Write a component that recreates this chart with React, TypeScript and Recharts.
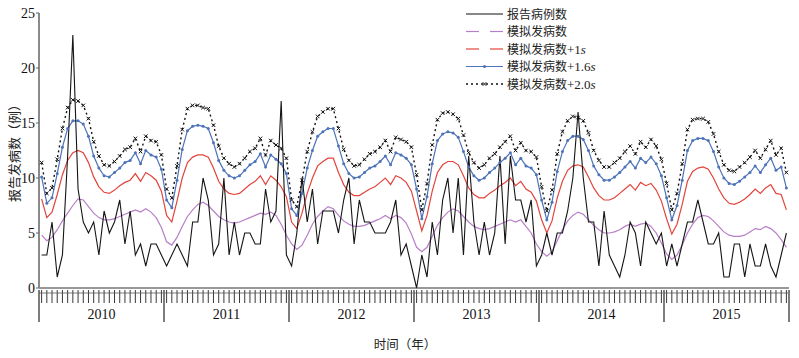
import { Line, LineChart, XAxis, YAxis } from "recharts";

const years = [2010, 2011, 2012, 2013, 2014, 2015];
const periodsPerYear = 24;
const yTicks = [0, 5, 10, 15, 20, 25];

// 报告病例数 (one row per year, 24 periods each)
const reported = [
  3, 3, 6, 1, 3, 12, 23, 9, 6, 5, 6, 3, 7, 5, 6, 8, 4, 7, 3, 4, 2, 4, 4, 3,
  2, 3, 4, 3, 2, 6, 6, 10, 8, 3, 4, 10, 3, 6, 3, 5, 5, 4, 4, 9, 6, 7, 17, 3,
  2, 5, 10, 6, 9, 4, 7, 7, 7, 5, 8, 10, 4, 8, 6, 6, 5, 5, 5, 6, 8, 3, 4, 2,
  0, 3, 1, 6, 3, 8, 10, 5, 10, 3, 12, 6, 3, 6, 3, 5, 12, 4, 12, 8, 8, 6, 8, 2,
  3, 5, 3, 5, 5, 7, 10, 16, 10, 6, 6, 2, 7, 3, 2, 1, 3, 6, 5, 2, 6, 5, 4, 5,
  2, 4, 2, 4, 6, 6, 8, 6, 4, 4, 5, 1, 1, 4, 4, 1, 4, 2, 2, 4, 2, 1, 3, 5,
];

// 模拟发病数
const simulated = [
  4.8, 4.3, 4.6, 5.3, 6.1, 6.8, 7.5, 8.1, 8.0, 7.4, 6.8, 6.4, 6.2, 6.2, 6.3, 6.5, 6.7, 6.9, 7.1, 6.9, 7.2, 6.9, 6.4, 5.5,
  4.2, 3.9, 4.6, 5.6, 6.5, 7.1, 7.6, 7.8, 7.5, 7.0, 6.5, 6.2, 6.0, 5.9, 6.0, 6.2, 6.4, 6.6, 6.8, 6.7, 6.9, 6.6, 5.8, 4.8,
  4.0, 3.5, 3.9, 4.8, 5.8, 6.5, 7.0, 7.4, 7.2, 6.6, 6.1, 5.8, 5.6, 5.6, 5.7, 5.9, 6.1, 6.3, 6.6, 6.3, 6.6, 6.4, 5.9, 4.9,
  3.7, 3.3, 3.7, 4.7, 5.7, 6.4, 6.9, 7.2, 7.0, 6.5, 6.0, 5.6, 5.4, 5.3, 5.4, 5.6, 5.8, 6.0, 6.2, 6.0, 6.2, 5.6, 5.0, 4.0,
  3.3, 2.9, 3.3, 4.3, 5.3, 6.1, 6.6, 6.9, 6.7, 6.2, 5.7, 5.3, 5.0, 5.0, 5.1, 5.3, 5.6, 5.8, 5.6, 5.8, 5.9, 5.6, 5.0, 4.1,
  3.1, 2.6, 3.0, 3.9, 5.0, 5.8, 6.4, 6.6, 6.5, 6.1, 5.6, 5.1, 4.8, 4.7, 4.7, 4.8, 5.1, 5.4, 5.3, 5.6, 5.4, 5.0, 4.4, 3.7,
];

// 模拟发病数+1s
const plus1s = [
  8.1, 6.4, 6.9, 8.5, 10.3, 11.6, 12.3, 12.5, 12.3, 11.4, 10.1, 9.2, 8.7, 8.6, 8.9, 9.3, 9.6, 9.8, 10.4, 9.7, 10.5, 10.2, 9.8, 8.8,
  6.6, 6.0, 7.9, 10.0, 11.4, 11.9, 12.1, 12.1, 11.9, 10.9, 9.7, 9.0, 8.6, 8.5, 8.6, 9.0, 9.4, 9.7, 10.2, 9.4, 10.2, 9.8, 9.2, 8.3,
  6.0, 5.4, 6.8, 8.6, 10.0, 11.1, 11.5, 11.8, 11.8, 10.5, 9.4, 8.7, 8.4, 8.4, 8.7, 9.0, 9.2, 9.6, 10.0, 9.4, 10.2, 10.0, 9.6, 8.8,
  7.0, 5.2, 6.6, 8.8, 10.5, 11.2, 11.5, 11.5, 11.2, 10.2, 9.1, 8.5, 8.2, 8.2, 8.6, 8.9, 9.3, 9.6, 10.0, 9.3, 9.7, 9.0, 8.7, 7.9,
  6.2, 5.0, 6.1, 8.2, 9.7, 10.7, 11.1, 11.2, 11.0, 10.1, 9.1, 8.4, 8.0, 8.0, 8.2, 8.6, 9.0, 9.4, 8.9, 9.6, 9.3, 9.5, 8.9, 7.9,
  6.3, 4.9, 5.8, 7.6, 9.7, 10.6, 10.9, 11.0, 10.8, 10.0, 9.0, 8.2, 7.7, 7.6, 7.8, 8.1, 8.5, 9.0, 8.6, 9.1, 9.4, 8.6, 8.5, 7.1,
];

// 模拟发病数+1.6s
const plus16s = [
  10.1, 7.7, 8.2, 10.4, 12.8, 14.5, 15.2, 15.2, 14.9, 13.8, 12.0, 10.9, 10.2, 10.1, 10.5, 10.9, 11.4, 11.6, 12.3, 11.3, 12.5, 12.1, 11.9, 10.8,
  8.0, 7.3, 9.8, 12.6, 14.3, 14.7, 14.8, 14.7, 14.5, 13.2, 11.6, 10.7, 10.2, 10.0, 10.2, 10.7, 11.2, 11.5, 12.2, 11.0, 12.1, 11.7, 11.3, 10.4,
  7.2, 6.6, 8.6, 10.9, 12.5, 13.8, 14.2, 14.5, 14.5, 12.9, 11.3, 10.4, 10.0, 10.1, 10.5, 10.9, 11.1, 11.5, 12.0, 11.2, 12.3, 12.1, 11.8, 11.2,
  9.0, 6.3, 8.3, 11.3, 13.4, 14.0, 14.2, 14.1, 13.7, 12.4, 11.0, 10.2, 9.8, 10.0, 10.5, 10.9, 11.4, 11.8, 12.3, 11.2, 11.8, 11.1, 10.9, 10.3,
  8.0, 6.2, 7.8, 10.6, 12.4, 13.4, 13.8, 13.8, 13.5, 12.5, 11.1, 10.3, 9.8, 9.8, 10.1, 10.5, 11.0, 11.5, 10.9, 11.8, 11.4, 11.9, 11.3, 10.2,
  8.2, 6.2, 7.5, 9.8, 12.5, 13.4, 13.6, 13.6, 13.4, 12.4, 11.0, 10.0, 9.5, 9.4, 9.7, 10.1, 10.5, 11.1, 10.5, 11.2, 11.8, 10.7, 11.0, 9.1,
];

// 模拟发病数+2.0s
const plus20s = [
  11.4, 8.6, 9.1, 11.7, 14.5, 16.4, 17.1, 17.0, 16.6, 15.4, 13.3, 12.0, 11.2, 11.1, 11.5, 12.0, 12.6, 12.8, 13.6, 12.4, 13.8, 13.4, 13.3, 12.1,
  9.0, 8.2, 11.1, 14.4, 16.3, 16.6, 16.6, 16.4, 16.3, 14.8, 12.9, 11.8, 11.3, 11.0, 11.3, 11.8, 12.4, 12.7, 13.6, 12.1, 13.4, 13.0, 12.7, 11.8,
  8.0, 7.4, 9.8, 12.4, 14.2, 15.6, 16.0, 16.3, 16.3, 14.5, 12.6, 11.6, 11.1, 11.2, 11.7, 12.2, 12.4, 12.8, 13.4, 12.4, 13.7, 13.5, 13.3, 12.8,
  10.3, 7.1, 9.5, 13.0, 15.3, 15.9, 16.0, 15.8, 15.4, 13.9, 12.3, 11.4, 10.9, 11.2, 11.8, 12.2, 12.8, 13.3, 13.8, 12.5, 13.2, 12.5, 12.4, 11.9,
  9.2, 7.0, 8.9, 12.2, 14.2, 15.2, 15.6, 15.5, 15.2, 14.1, 12.5, 11.6, 11.0, 11.0, 11.4, 11.8, 12.4, 12.9, 12.2, 13.3, 12.8, 13.5, 12.9, 11.7,
  9.5, 7.1, 8.6, 11.3, 14.4, 15.3, 15.4, 15.4, 15.1, 14.0, 12.4, 11.2, 10.7, 10.6, 11.0, 11.4, 11.9, 12.5, 11.8, 12.6, 13.4, 12.1, 12.7, 10.5,
];

const legendLabels = ["报告病例数", "模拟发病数", "模拟发病数", "模拟发病数", "模拟发病数"];
const legendSuffix = ["", "", "+1", "+1.6", "+2.0"];

const PURPLE = "#b77fc7";
const RED = "#e3443b";
const BLUE = "#4d73b8";
const SERIF = "Liberation Serif, serif";
const CJK = "Noto Sans CJK SC, sans-serif";

const data = reported.map((v, i) => ({
  t: i + 0.5,
  reported: v,
  simulated: simulated[i],
  plus1s: plus1s[i],
  plus16s: plus16s[i],
  plus20s: plus20s[i],
}));

const total = years.length * periodsPerYear;
const yearEdges = years.map((_, k) => k * periodsPerYear).concat(total);
const yearMids = years.map((_, k) => k * periodsPerYear + periodsPerYear / 2);
const xTicks = [...data.map((d) => d.t), ...yearEdges, ...yearMids].sort((a, b) => a - b);

/** One tick per period, long separators between years, year name in the middle. */
function XTick({ x, y, payload }: any) {
  const v = payload.value as number;
  if (v % periodsPerYear === 0) {
    return <line x1={x} x2={x} y1={y} y2={y + 32} stroke="#7d7d7d" strokeWidth={2} />;
  }
  if (v % periodsPerYear === periodsPerYear / 2) {
    return (
      <text x={x} y={y + 29} textAnchor="middle" fontFamily={SERIF} fontSize={14} fill="#111">
        {years[Math.floor(v / periodsPerYear)]}
      </text>
    );
  }
  return (
    <g>
      <line x1={x} x2={x} y1={y} y2={y + 13} stroke="#222" strokeWidth={0.9} />
      <line x1={x - 2.6} x2={x + 2.6} y1={y + 3} y2={y + 3} stroke="#555" strokeWidth={0.8} />
    </g>
  );
}

function XMark({ cx, cy, index }: any) {
  if (cx == null || cy == null) return <g key={index} />;
  const d = 1.8;
  return (
    <path
      key={index}
      d={`M${cx - d},${cy - d}L${cx + d},${cy + d}M${cx - d},${cy + d}L${cx + d},${cy - d}`}
      stroke="#111"
      strokeWidth={1}
      fill="none"
    />
  );
}

function LegendSample({ row, y }: { row: number; y: number }) {
  const x1 = 466;
  const x2 = 503;
  const mid = (x1 + x2) / 2;
  if (row === 0) return <line x1={x1} x2={x2} y1={y} y2={y} stroke="#111" strokeWidth={1.2} />;
  if (row === 1 || row === 2) {
    const c = row === 1 ? PURPLE : RED;
    return (
      <g>
        <line x1={x1} x2={x1 + 13} y1={y} y2={y} stroke={c} strokeWidth={1.2} />
        <line x1={x2 - 13} x2={x2} y1={y} y2={y} stroke={c} strokeWidth={1.2} />
      </g>
    );
  }
  if (row === 3) {
    return (
      <g>
        <line x1={x1} x2={x2} y1={y} y2={y} stroke={BLUE} strokeWidth={1.2} />
        <circle cx={mid} cy={y} r={1.6} fill={BLUE} />
      </g>
    );
  }
  return (
    <g>
      <line x1={x1} x2={x2} y1={y} y2={y} stroke="#111" strokeWidth={1.4} strokeDasharray="2 3" />
      <XMark cx={mid} cy={y} index={0} />
    </g>
  );
}

export default function App() {
  return (
    <div style={{ position: "absolute", left: 0, top: 0, width: 799, height: 358, background: "#fff" }}>
      <LineChart width={799} height={358} data={data} margin={{ top: 13, right: 10, bottom: 0, left: 0 }}>
        <XAxis
          type="number"
          dataKey="t"
          domain={[0, total]}
          ticks={xTicks}
          interval={0}
          tickSize={0}
          tickLine={false}
          height={70}
          axisLine={{ stroke: "#333", strokeWidth: 1.2 }}
          tick={(p: any) => <XTick {...p} />}
        />
        <YAxis
          domain={[0, 25]}
          ticks={yTicks}
          interval={0}
          width={39}
          tickSize={3}
          tickMargin={1}
          axisLine={{ stroke: "#8a8a8a", strokeWidth: 2 }}
          tickLine={{ stroke: "#666" }}
          tick={{ fontFamily: SERIF, fontSize: 14, fill: "#111" }}
        />
        <Line type="linear" dataKey="plus20s" stroke="#111" strokeWidth={1.4} strokeDasharray="2 3" dot={(p: any) => <XMark {...p} />} isAnimationActive={false} />
        <Line type="linear" dataKey="plus16s" stroke={BLUE} strokeWidth={1.2} dot={{ r: 1.5, fill: BLUE, stroke: "none" }} isAnimationActive={false} />
        <Line type="linear" dataKey="plus1s" stroke={RED} strokeWidth={1.2} dot={false} isAnimationActive={false} />
        <Line type="linear" dataKey="simulated" stroke={PURPLE} strokeWidth={1.2} dot={false} isAnimationActive={false} />
        <Line type="linear" dataKey="reported" stroke="#151515" strokeWidth={1.1} dot={false} isAnimationActive={false} />
      </LineChart>
      <svg width={799} height={358} style={{ position: "absolute", left: 0, top: 0, pointerEvents: "none" }}>
        <text
          transform="translate(13,150) rotate(-90)"
          textAnchor="middle"
          dominantBaseline="central"
          fontFamily={CJK}
          fontSize={13}
          fill="#222"
        >
          报告发病数（例）
        </text>
        <text x={405} y={343} textAnchor="middle" dominantBaseline="central" fontFamily={CJK} fontSize={12.5} fill="#222">
          时间（年）
        </text>
        {legendLabels.map((label, i) => {
          const y = 14 + i * 17.5;
          const suffix = legendSuffix[i];
          return (
            <g key={i}>
              <LegendSample row={i} y={y} />
              <text x={507} y={y + 4.5} fontFamily={CJK} fontSize={12} fill="#222">
                {label}
                {suffix && (
                  <tspan fontFamily={SERIF} fontSize={13}>
                    {suffix}
                  </tspan>
                )}
                {suffix && (
                  <tspan fontFamily={SERIF} fontSize={13} fontStyle="italic">
                    s
                  </tspan>
                )}
              </text>
            </g>
          );
        })}
      </svg>
    </div>
  );
}
